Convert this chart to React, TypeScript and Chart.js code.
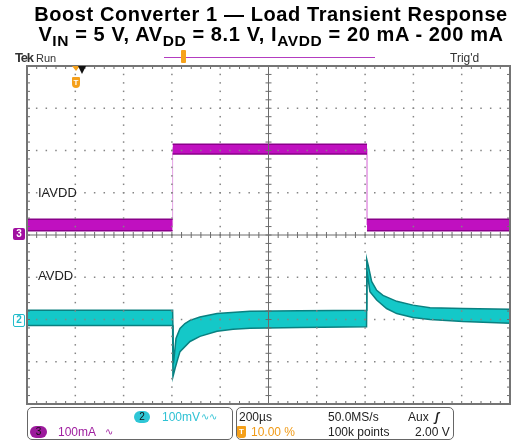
import React, { useEffect, useRef } from 'react';
import { Chart, registerables } from 'chart.js';
Chart.register(...registerables);

// ---- Axis set-up (oscilloscope): 200 µs/div, 10 div; 8 vertical divisions ----
const X_MIN = -200; // µs (trigger at 0, 10 % pre-trigger)
const X_MAX = 1800;
const X_DIV = 200;
const Y_MIN = -4;
const Y_MAX = 4;

// ---- Channel 3: IAVDD, 100 mA/div, ground marker at 0 div ----
const CH3_SCALE = 100; // mA/div
const CH3_OFFSET = 0; // div
const iavddTime = [-200, 403, 403, 1208, 1208, 1800];
const iavddUpper = [37, 37, 215, 215, 37, 37];
const iavddLower = [10, 10, 192, 192, 10, 10];
const iavddMid = [24, 24, 204, 204, 24, 24];

// ---- Channel 2: AVDD (AC), 100 mV/div, ground marker at -2 div ----
const CH2_SCALE = 100; // mV/div
const CH2_OFFSET = -2; // div
const avddUpperTime = [-200, 403, 406.6, 417, 433.5, 454, 475, 516, 587, 723, 930, 1206, 1207, 1213, 1227, 1248, 1274, 1331, 1398, 1469, 1605, 1800];
const avddUpper = [22, 22, -104, -45, -21, -9.5, -2, 6, 14, 19.6, 21, 22, 142, 128, 90, 69, 57, 43, 34, 28, 26, 24];
const avddLowerTime = [-200, 403, 404.5, 413, 425, 433.5, 475, 516, 587, 653, 723, 930, 1206, 1208, 1220, 1248, 1289, 1331, 1398, 1469, 1605, 1800];
const avddLower = [-14, -14, -135, -116, -92, -76, -52, -40, -28, -23, -21, -19, -17, 114, 66, 46, 26, 14, 5, 0, -5, -9];

const pts = (times: number[], vals: number[], scale: number, off: number) =>
  times.map((t, i) => ({ x: t, y: vals[i] / scale + off }));

const isVertical = (c: any) => c.p0.parsed.x === c.p1.parsed.x;

const graticule = {
  id: 'graticule',
  afterDatasetsDraw(chart: any) {
    const { ctx, chartArea: a, scales } = chart;
    const xs = (v: number) => scales.x.getPixelForValue(v);
    const ys = (v: number) => scales.y.getPixelForValue(v);
    const xc = (X_MIN + X_MAX) / 2;
    const yc = (Y_MIN + Y_MAX) / 2;
    const nx = (X_MAX - X_MIN) / X_DIV;
    const ny = Y_MAX - Y_MIN;
    ctx.save();
    // dotted grid
    ctx.fillStyle = '#858585';
    for (let i = 1; i < nx; i++) {
      const t = X_MIN + i * X_DIV;
      if (t === xc) continue;
      const px = xs(t);
      for (let k = 0; k <= ny * 5; k++) {
        const py = ys(Y_MIN + k * 0.2);
        ctx.fillRect(px - 0.75, py - 0.75, 1.5, 1.5);
      }
    }
    for (let j = 1; j < ny; j++) {
      const v = Y_MIN + j;
      if (v === yc) continue;
      const py = ys(v);
      for (let k = 0; k <= nx * 5; k++) {
        const px = xs(X_MIN + k * (X_DIV / 5));
        ctx.fillRect(px - 0.75, py - 0.75, 1.5, 1.5);
      }
    }
    // centre axes with minor ticks
    ctx.strokeStyle = '#6c6c6c';
    ctx.lineWidth = 1;
    const cx = xs(xc);
    const cy = ys(yc);
    ctx.beginPath();
    ctx.moveTo(cx, a.top);
    ctx.lineTo(cx, a.bottom);
    ctx.moveTo(a.left, cy);
    ctx.lineTo(a.right, cy);
    for (let k = 1; k < nx * 5; k++) {
      const px = xs(X_MIN + k * (X_DIV / 5));
      ctx.moveTo(px, cy - 3);
      ctx.lineTo(px, cy + 3);
      ctx.moveTo(px, a.top);
      ctx.lineTo(px, a.top + 3);
      ctx.moveTo(px, a.bottom);
      ctx.lineTo(px, a.bottom - 3);
    }
    for (let k = 1; k < ny * 5; k++) {
      const py = ys(Y_MIN + k * 0.2);
      ctx.moveTo(cx - 3, py);
      ctx.lineTo(cx + 3, py);
      ctx.moveTo(a.left, py);
      ctx.lineTo(a.left + 3, py);
      ctx.moveTo(a.right, py);
      ctx.lineTo(a.right - 3, py);
    }
    ctx.stroke();
    // frame
    ctx.strokeStyle = '#747474';
    ctx.lineWidth = 2;
    ctx.strokeRect(a.left, a.top, a.right - a.left, a.bottom - a.top);
    ctx.restore();
  },
};

const FONT = '"Liberation Sans", Arial, sans-serif';

const Txt = ({ x, b, size, color = '#222', bold = false, children, style = {} }: any) => (
  <div
    style={{
      position: 'absolute',
      left: x,
      top: b - 0.85 * size,
      fontSize: size,
      lineHeight: size + 'px',
      fontFamily: FONT,
      fontWeight: bold ? 'bold' : 'normal',
      color,
      whiteSpace: 'nowrap',
      ...style,
    }}
  >
    {children}
  </div>
);

const subStyle: React.CSSProperties = { fontSize: 15.5, verticalAlign: '-5px', lineHeight: 0 };
const titleStyle: React.CSSProperties = {
  position: 'absolute',
  left: 27,
  width: 488,
  textAlign: 'center',
  fontFamily: FONT,
  fontWeight: 'bold',
  fontSize: 20,
  lineHeight: '21px',
  letterSpacing: 0.6,
  whiteSpace: 'nowrap',
  color: '#000',
};

export default function App() {
  const ref = useRef<HTMLCanvasElement>(null);
  useEffect(() => {
    if (!ref.current) return;
    const thinVert = (normal: string) => ({
      borderColor: (c: any) => (isVertical(c) ? 'rgba(0,0,0,0)' : normal),
    });
    const chart = new Chart(ref.current, {
      type: 'line',
      data: {
        datasets: [
          {
            data: pts(iavddTime, iavddLower, CH3_SCALE, CH3_OFFSET),
            borderColor: '#8a008a',
            borderWidth: 1.5,
            pointRadius: 0,
            fill: false,
            segment: thinVert('#8a008a'),
          },
          {
            data: pts(iavddTime, iavddUpper, CH3_SCALE, CH3_OFFSET),
            borderColor: '#8a008a',
            borderWidth: 1.5,
            pointRadius: 0,
            fill: '-1',
            backgroundColor: '#c010c0',
            segment: thinVert('#8a008a'),
          },
          {
            data: pts(iavddTime, iavddMid, CH3_SCALE, CH3_OFFSET),
            borderColor: '#e040e0',
            borderWidth: 3,
            pointRadius: 0,
            fill: false,
            segment: {
              borderColor: (c: any) => (isVertical(c) ? '#e6a3e6' : '#e040e0'),
              borderWidth: (c: any) => (isVertical(c) ? 1 : 3),
            },
          },
          {
            data: pts(avddLowerTime, avddLower, CH2_SCALE, CH2_OFFSET),
            borderColor: '#0a8080',
            borderWidth: 1.5,
            pointRadius: 0,
            fill: false,
          },
          {
            data: pts(avddUpperTime, avddUpper, CH2_SCALE, CH2_OFFSET),
            borderColor: '#0a8080',
            borderWidth: 1.5,
            pointRadius: 0,
            fill: '-1',
            backgroundColor: '#14c8c8',
          },
        ],
      },
      options: {
        animation: false,
        responsive: false,
        events: [],
        layout: { padding: { left: 27, right: 5, top: 66, bottom: 38 } },
        plugins: { legend: { display: false }, tooltip: { enabled: false }, title: { display: false } },
        scales: {
          x: { type: 'linear', min: X_MIN, max: X_MAX, display: false },
          y: { type: 'linear', min: Y_MIN, max: Y_MAX, display: false },
        },
      },
      plugins: [graticule],
    });
    return () => chart.destroy();
  }, []);

  const boxStyle: React.CSSProperties = {
    position: 'absolute',
    border: '1.5px solid #666',
    borderRadius: 5,
    boxSizing: 'border-box',
  };

  return (
    <div style={{ position: 'fixed', left: 0, top: 0, width: 515, height: 442, background: '#fff', overflow: 'hidden' }}>
      <canvas ref={ref} width={515} height={442} style={{ position: 'absolute', left: 0, top: 0 }} />
      {/* Title */}
      <div style={{ ...titleStyle, top: 4.3 }}>Boost Converter 1 — Load Transient Response</div>
      <div style={{ ...titleStyle, top: 24.3 }}>
        V<sub style={subStyle}>IN</sub> = 5 V, AV<sub style={subStyle}>DD</sub> = 8.1 V, I<sub style={subStyle}>AVDD</sub> = 20 mA - 200 mA
      </div>
      {/* Scope header */}
      <Txt x={15} b={62} size={13} bold color="#333" style={{ letterSpacing: -1.2 }}>Tek</Txt>
      <Txt x={36} b={62} size={11} color="#333">Run</Txt>
      <Txt x={450} b={62} size={12} color="#333">Trig'd</Txt>
      <div style={{ position: 'absolute', left: 164, top: 56.5, width: 211, height: 1.2, background: '#b33cc0' }} />
      <div style={{ position: 'absolute', left: 181, top: 50, width: 5, height: 13, background: '#f6a21a', borderRadius: 1 }} />
      {/* Trigger markers */}
      <div style={{ position: 'absolute', left: 72, top: 66, width: 0, height: 0, borderLeft: '4px solid transparent', borderRight: '4px solid transparent', borderTop: '5px solid #f5a01a' }} />
      <div style={{ position: 'absolute', left: 78, top: 66, width: 0, height: 0, borderLeft: '4px solid transparent', borderRight: '4px solid transparent', borderTop: '8px solid #111' }} />
      <div style={{ position: 'absolute', left: 72, top: 77, width: 8, height: 11, background: '#f5a01a', borderRadius: '1px 1px 4px 4px', color: '#fff', fontFamily: FONT, fontWeight: 'bold', fontSize: 8, lineHeight: '11px', textAlign: 'center' }}>T</div>
      {/* Channel ground markers */}
      <div style={{ position: 'absolute', left: 13, top: 228, width: 12, height: 12, background: '#a010a0', borderRadius: 2, color: '#fff', fontFamily: FONT, fontWeight: 'bold', fontSize: 10, lineHeight: '12px', textAlign: 'center' }}>3</div>
      <div style={{ position: 'absolute', left: 13, top: 314, width: 12, height: 13, background: '#fff', border: '1.5px solid #22bccb', boxSizing: 'border-box', borderRadius: 2, color: '#22bccb', fontFamily: FONT, fontWeight: 'bold', fontSize: 10, lineHeight: '10px', textAlign: 'center' }}>2</div>
      {/* Trace labels */}
      <Txt x={38} b={197} size={13} color="#222">IAVDD</Txt>
      <Txt x={38} b={280} size={13} color="#222">AVDD</Txt>
      {/* Status boxes */}
      <div style={{ ...boxStyle, left: 27, top: 407, width: 206, height: 33 }} />
      <div style={{ ...boxStyle, left: 236, top: 407, width: 218, height: 33 }} />
      <div style={{ position: 'absolute', left: 134, top: 411, width: 16, height: 12, borderRadius: 6, background: '#2ec6d6', color: '#111', fontFamily: FONT, fontSize: 10, lineHeight: '12px', textAlign: 'center' }}>2</div>
      <Txt x={162} b={421} size={12} color="#2ec2d4">100mV</Txt>
      <Txt x={201} b={420} size={10} color="#2ec2d4">∿∿</Txt>
      <div style={{ position: 'absolute', left: 30, top: 426, width: 17, height: 12, borderRadius: 6, background: '#9c1a9c', color: '#111', fontFamily: FONT, fontSize: 10, lineHeight: '12px', textAlign: 'center' }}>3</div>
      <Txt x={58} b={436} size={12} color="#a020a0">100mA</Txt>
      <Txt x={105} b={435} size={10} color="#a020a0">∿</Txt>
      <Txt x={239} b={421} size={12}>200µs</Txt>
      <Txt x={328} b={421} size={12}>50.0MS/s</Txt>
      <Txt x={408} b={421} size={12}>Aux</Txt>
      <Txt x={435} b={421} size={12} bold style={{ fontStyle: 'italic' }}>ʃ</Txt>
      <div style={{ position: 'absolute', left: 237, top: 426, width: 9, height: 12, background: '#f5a01a', borderRadius: '1px 1px 3px 3px', color: '#fff', fontFamily: FONT, fontWeight: 'bold', fontSize: 8, lineHeight: '12px', textAlign: 'center' }}>T</div>
      <Txt x={251} b={436} size={12} color="#f09a16">10.00 %</Txt>
      <Txt x={328} b={436} size={12}>100k points</Txt>
      <Txt x={415} b={436} size={12}>2.00 V</Txt>
    </div>
  );
}
